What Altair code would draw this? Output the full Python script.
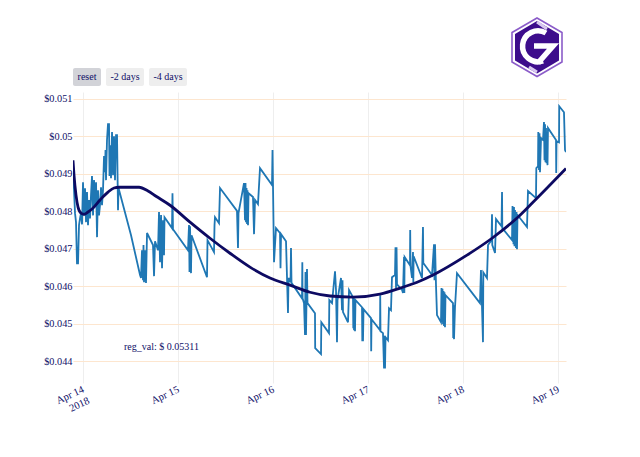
import urllib.parse
import altair as alt
import pandas as pd

BASE = pd.Timestamp("2018-04-14T00:00:00Z")

price_hours = [
-2.53,-2.27,-2.02,-1.77,-1.52,-1.26,-1.01,-.76,-.51,-.25,0,.25,.51,.76,1.01,1.26,1.52,1.77,2.02,2.27,2.53,2.78,3.03,3.29,3.54,3.79,4.04,4.29,4.55,4.80,5.05,5.31,5.56,5.68,5.81,6.06,6.31,6.57,6.69,6.82,7.07,7.33,7.58,7.83,8.08,8.34,8.59,8.84,8.97,
12.13,14.40,14.65,14.90,15.16,15.28,15.41,15.66,15.91,16.17,17.68,17.94,18.19,18.95,19.2,19.45,19.71,19.96,20.21,20.46,20.59,22.48,22.6,22.73,26.52,26.78,26.9,27.03,27.28,27.41,31.32,31.45,33.09,33.22,33.34,34.35,34.61,38.9,39.15,39.28,40.67,40.92,41.05,41.17,41.3,41.43,41.55,41.68,41.81,42.94,43.2,43.45,44.2,44.71,47.74,47.87,48.0,48.25,48.75,49.76,49.89,50.02,51.28,51.53,51.78,51.91,52.42,52.54,52.67,55.32,55.4,55.47,55.83,56.08,56.2,56.33,56.58,56.71,58.6,58.65,60.12,60.2,62.14,62.22,62.9,63.66,63.91,64.16,64.29,65.17,65.43,65.55,65.68,66.94,67.2,68.2,68.28,68.36,68.46,68.56,68.71,68.83,70.48,70.55,70.73,70.86,72.75,72.8,72.88,75.03,75.08,75.15,75.78,76.04,76.16,76.29,76.42,77.04,77.3,77.8,78.05,78.81,78.94,79.07,79.2,79.32,80.6,80.83,81.09,81.17,81.24,82.6,82.65,82.73,83.11,83.36,83.44,83.52,85.64,85.88,85.96,88.16,88.67,88.79,88.92,89.17,89.42,90.43,90.56,90.68,90.81,90.94,91.07,91.19,91.32,91.44,91.57,93.46,93.52,93.62,93.72,93.97,94.47,100.28,100.53,101.04,101.12,102.05,102.31,103.2,103.32,103.39,104.08,104.33,105.72,105.85,105.92,108.37,108.5,108.75,108.87,109,109.13,109.38,109.51,109.63,109.76,112.16,112.41,114.43,114.51,114.94,115.01,115.19,115.32,115.44,115.7,116.2,116.45,116.58,116.71,116.83,116.96,117.09,117.21,117.34,117.46,119.49,119.54,119.62,120.25,120.3,121.5,121.76,122.01,
]
price_values = [
.04904,.04856,.04795,.04771,.04661,.04661,.04763,.04781,.04795,.04765,.04877,.04789,.04861,.04771,.04851,.04763,.04830,.04781,.04843,.04894,.04789,.04883,.04816,.04877,.04731,.04856,.04789,.04816,.04864,.04816,.04856,.04947,.04904,.04963,.04883,.04990,.05032,.05032,.04894,.04976,.04888,.05011,.04896,.05000,.04883,.05003,.05003,.04803,.04862,
.04736,.04630,.04622,.04696,.04616,.04710,.04611,.04696,.04609,.04742,.04710,.04627,.04720,.04696,.04798,.04664,.04790,.04648,.04776,.04683,.04784,.04755,.04848,.04752,.04696,.04763,.04638,.04760,.04635,.04736,.04624,.04723,.04691,.04763,.04784,.04768,.04862,.04801,.04702,.04795,.04875,.04776,.04875,.04771,.04862,.04766,.04856,.04763,.04848,.04838,.04739,.04830,.04819,.04915,.04870,.04963,.04862,.04664,.04755,.04742,.04648,.04739,.04720,.04624,.04529,.04622,.04611,.04702,.04609,.04568,.04664,.04568,.04555,.04470,.04638,.04470,.04646,.04555,.04528,.04435,.04419,.04504,.04475,.04563,.04555,.04640,.04590,.04451,.04563,.04622,.04536,.04616,.04531,.04504,.04590,.04571,.04488,.04568,.04483,.04566,.04480,.04563,.04544,.04456,.04456,.04539,.04515,.04427,.04512,.04483,.04576,.04480,.04475,.04381,.04467,.04381,.04464,.04456,.04541,.04536,.04624,.04630,.04704,.04595,.04704,.04605,.04590,.04582,.04678,.04582,.04678,.04656,.04750,.04654,.04622,.04691,.04611,.04680,.04622,.04758,.04662,.04630,.04712,.04616,.04712,.04603,.04523,.04504,.04595,.04504,.04593,.04499,.04587,.04494,.04584,.04491,.04576,.04555,.04462,.04549,.04459,.04544,.04635,.04555,.04643,.04451,.04637,.04622,.04710,.04723,.04792,.04710,.04689,.04779,.04760,.04851,.04755,.04723,.04814,.04712,.04811,.04707,.04803,.04702,.04798,.04699,.04790,.04758,.04854,.04835,.04915,.04920,.05011,.04910,.05008,.04904,.04995,.04990,.05038,.04936,.05032,.04931,.05022,.04928,.05011,.04923,.05022,.04990,.04902,.04987,.04984,.05080,.05064,.04963,.04958,
]
reg_hours = [-2.53,-2.27,-1.77,-1.26,-.51,.25,1.26,2.27,4.29,6.31,7.83,9.09,11.87,14.15,16.42,18.44,21.98,27.03,32.08,37.13,42.18,47.24,52.29,57.34,62.4,68.2,75.03,80.08,85.13,88.42,97.0,103.32,109.63,113.67,122.01]
reg_values = [.04936,.04896,.04843,.04811,.04795,.04792,.04798,.04806,.04830,.04851,.04862,.04864,.04864,.04864,.04854,.04840,.04816,.04771,.04728,.04688,.04651,.04622,.04603,.04584,.04574,.04571,.04579,.04595,.04614,.04630,.04683,.04728,.04782,.04824,.04914]
y_ticks = [0.044,0.045,0.046,0.047,0.048,0.049,0.05,0.051]
x_tick_dates = ["2018-04-14","2018-04-15","2018-04-16","2018-04-17","2018-04-18","2018-04-19"]

INK = "#0f0f68"
FONT = "Liberation Serif"

def stamp(hours):
    return [(BASE + pd.Timedelta(hours=h)).isoformat() for h in hours]

def ms(s):
    return int(pd.Timestamp(s + "T00:00:00Z").timestamp() * 1000)

x_scale = alt.Scale(type="utc", domain=[(BASE + pd.Timedelta(hours=-2.53)).isoformat(),
                                        (BASE + pd.Timedelta(hours=122.01)).isoformat()], nice=False)
y_scale = alt.Scale(domain=[0.04342, 0.05118], nice=False, zero=False)

x_enc = alt.X("t:T", scale=x_scale, title=None, axis=alt.Axis(
    values=[ms(d) for d in x_tick_dates],
    labelExpr="datum.index == 0 ? ['Apr 14', '2018'] : utcFormat(datum.value, '%b %-d')",
    labelAngle=-25, labelAlign="right", labelBaseline="top", labelPadding=1, labelOffset=-2,
    labelFont=FONT, labelFontSize=10.5, labelColor=INK,
    ticks=False, domain=False, grid=True, gridColor="#eeeeee", gridWidth=1, labelOverlap=False))
y_enc = alt.Y("p:Q", scale=y_scale, title=None, axis=alt.Axis(
    values=y_ticks, format="$.3~f",
    labelFont=FONT, labelFontSize=10.3, labelColor=INK, labelPadding=1,
    ticks=False, domain=False, grid=True, gridColor="#fde6cf", gridWidth=1))

price_df = pd.DataFrame({"t": stamp(price_hours), "p": price_values})
reg_df = pd.DataFrame({"t": stamp(reg_hours), "p": reg_values})

price = alt.Chart(price_df).mark_line(color="#1f77b4", strokeWidth=1.8, interpolate="linear", clip=True).encode(x=x_enc, y=y_enc)
reg = alt.Chart(reg_df).mark_line(color="#0d0a62", strokeWidth=2.8, interpolate="monotone", clip=True).encode(x=alt.X("t:T", scale=x_scale), y=alt.Y("p:Q", scale=y_scale))

def button(label, x0, x1, fill):
    rect = alt.Chart().mark_rect(fill=fill, cornerRadius=2).encode(
        x=alt.value(x0), x2=alt.value(x1), y=alt.value(-24), y2=alt.value(-6))
    text = alt.Chart().mark_text(text=label, font=FONT, fontSize=10, color=INK, align="center", baseline="middle").encode(
        x=alt.value((x0 + x1) / 2), y=alt.value(-15))
    return [rect, text]

layers = [price, reg]
layers += button("reset", 0, 28, "#d2d3d8")
layers += button("-2 days", 33, 71, "#eeeeee")
layers += button("-4 days", 76, 114, "#eeeeee")
layers.append(alt.Chart().mark_text(text="reg_val: $ 0.05311", font=FONT, fontSize=10, color=INK, align="left", baseline="middle").encode(
    x=alt.value(51), y=alt.value(255)))

logo_svg = ("<svg xmlns='http://www.w3.org/2000/svg' width='54' height='62' viewBox='0 0 54 62'>"
            "<polygon points='27,1 52,15.5 52,45 27,59.5 2,45 2,15.5' fill='#ffffff' stroke='#8b5cc9' stroke-width='1.6'/>"
            "<polygon points='27,4 49,17 49,43.5 27,56.5 5,43.5 5,17' fill='#3d0d8c'/>"
            "<path d='M36 16 A 15.5 15.5 0 1 0 33 44' fill='none' stroke='#ffffff' stroke-width='5.5'/>"
            "<path d='M24 29 L43 29 L28 46' fill='none' stroke='#ffffff' stroke-width='5.5'/>"
            "<path d='M27 5 L37 12 M27 55 L19 50' fill='none' stroke='#d8c8f0' stroke-width='3'/>"
            "</svg>")
logo_url = "data:image/svg+xml;charset=utf-8," + urllib.parse.quote(logo_svg)
layers.append(alt.Chart().mark_image(url=logo_url, width=54, height=62).encode(
    x=alt.value(464), y=alt.value(-44)))

chart = alt.layer(*layers).properties(
    width=493, height=291,
    autosize=alt.AutoSizeParams(type="none"),
    padding={"left": 65, "top": 84, "right": 60, "bottom": 58},
).configure_view(stroke=None)

chart.save("out.html", embed_options={"renderer": "svg", "actions": False})
